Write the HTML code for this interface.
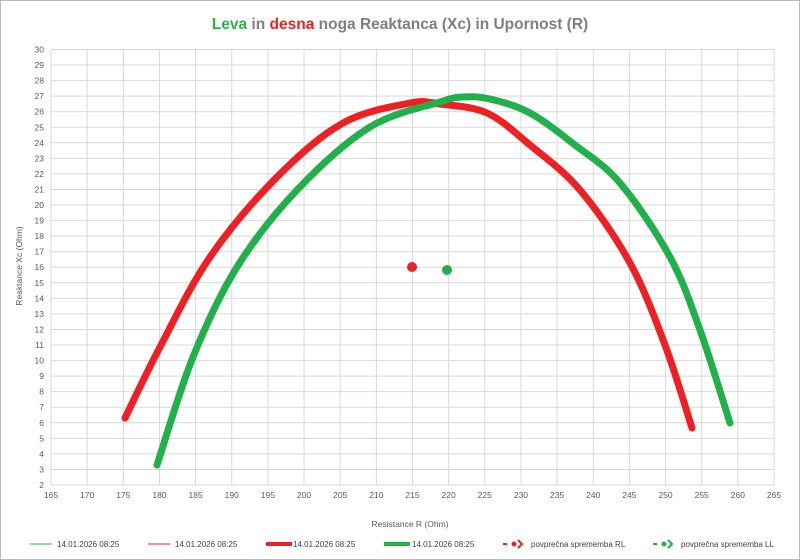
<!DOCTYPE html>
<html><head><meta charset="utf-8"><style>
body{margin:0;background:#fff;}
svg{display:block;font-family:"Liberation Sans",sans-serif;}
</style></head><body>
<svg width="800" height="560" viewBox="0 0 800 560">
<rect x="0.5" y="0.5" width="799" height="559" fill="#fff" stroke="#bbb"/>
<text x="400" y="29" text-anchor="middle" font-size="15.5" font-weight="bold" fill="#7f7f7f"><tspan fill="#2bb24a">Leva</tspan> in <tspan fill="#ee2024">desna</tspan> noga Reaktanca (Xc) in Upornost (R)</text>
<g id="grid" stroke="#d9d9d9" stroke-width="1"></g>
<g id="lbl" font-size="8.5" fill="#595959"></g>
<text x="410" y="527" text-anchor="middle" font-size="8.5" fill="#595959">Resistance R (Ohm)</text>
<text transform="translate(22,266) rotate(-90)" text-anchor="middle" font-size="8.5" fill="#595959">Reaktance Xc (Ohm)</text>
<path id="red" fill="none" stroke="#ee2024" stroke-width="7" stroke-linecap="round"/>
<path id="green" fill="none" stroke="#22b04b" stroke-width="7" stroke-linecap="round"/>
<circle cx="412" cy="267" r="5" fill="#ee2024"/>
<circle cx="447" cy="270" r="5" fill="#22b04b"/>
<g font-size="8" fill="#404040">
<line x1="30" y1="544" x2="52" y2="544" stroke="#2bb24a"/><text x="57" y="547">14.01.2026 08:25</text>
<line x1="148" y1="544" x2="170" y2="544" stroke="#ee2024"/><text x="175" y="547">14.01.2026 08:25</text>
<line x1="266" y1="544" x2="292" y2="544" stroke="#ee2024" stroke-width="4"/><text x="293" y="547">14.01.2026 08:25</text>
<line x1="384" y1="544" x2="410" y2="544" stroke="#22b04b" stroke-width="4"/><text x="412" y="547">14.01.2026 08:25</text>
<line x1="503" y1="544" x2="507" y2="544" stroke="#ee2024" stroke-width="2"/><circle cx="514" cy="544" r="2.5" fill="#ee2024"/><path d="M518,540 L522,544 L518,548" fill="none" stroke="#ee2024" stroke-width="2"/><text x="531" y="547">povprečna sprememba RL</text>
<line x1="653" y1="544" x2="657" y2="544" stroke="#22b04b" stroke-width="2"/><circle cx="664" cy="544" r="2.5" fill="#22b04b"/><path d="M668,540 L672,544 L668,548" fill="none" stroke="#22b04b" stroke-width="2"/><text x="681" y="547">povprečna sprememba LL</text>
</g>
</svg>
<script>
var g=document.getElementById('grid'),l=document.getElementById('lbl'),ns='http://www.w3.org/2000/svg';
function el(p,t,a){var e=document.createElementNS(ns,t);for(var k in a)e.setAttribute(k,a[k]);p.appendChild(e);return e;}
function X(v){return 51+(v-165)*7.23;}function Y(v){return 485-(v-2)*15.554;}
for(var v=165;v<=265;v+=5){var x=X(v);el(g,'line',{x1:x,x2:x,y1:49.5,y2:485});var t=el(l,'text',{x:x,y:498,'text-anchor':'middle'});t.textContent=v;}
for(var v=2;v<=30;v++){var y=Y(v);el(g,'line',{x1:51,x2:774,y1:y,y2:y});var t=el(l,'text',{x:44,y:y+3,'text-anchor':'end'});t.textContent=v;}
function path(p){var s='M'+p[0];
for(var i=0;i<p.length-1;i++){var a=p[i-1]||p[i],b=p[i],c=p[i+1],e=p[i+2]||c;
s+=' C'+(b[0]+(c[0]-a[0])/6)+','+(b[1]+(c[1]-a[1])/6)+' '+(c[0]-(e[0]-b[0])/6)+','+(c[1]-(e[1]-b[1])/6)+' '+c;}return s;}
document.getElementById('red').setAttribute('d',path([[125,418],[160,347],[210,257],[277,177],[343,123],[410,103],[440,104],[487,113],[530,145],[580,190],[630,263],[665,345],[692,428]]));
document.getElementById('green').setAttribute('d',path([[157,465],[193,357],[237,267],[297,190],[370,127],[440,102],[463,97],[490,99],[530,113],[575,145],[620,183],[670,257],[700,330],[730,423]]));
</script>
</body></html>
